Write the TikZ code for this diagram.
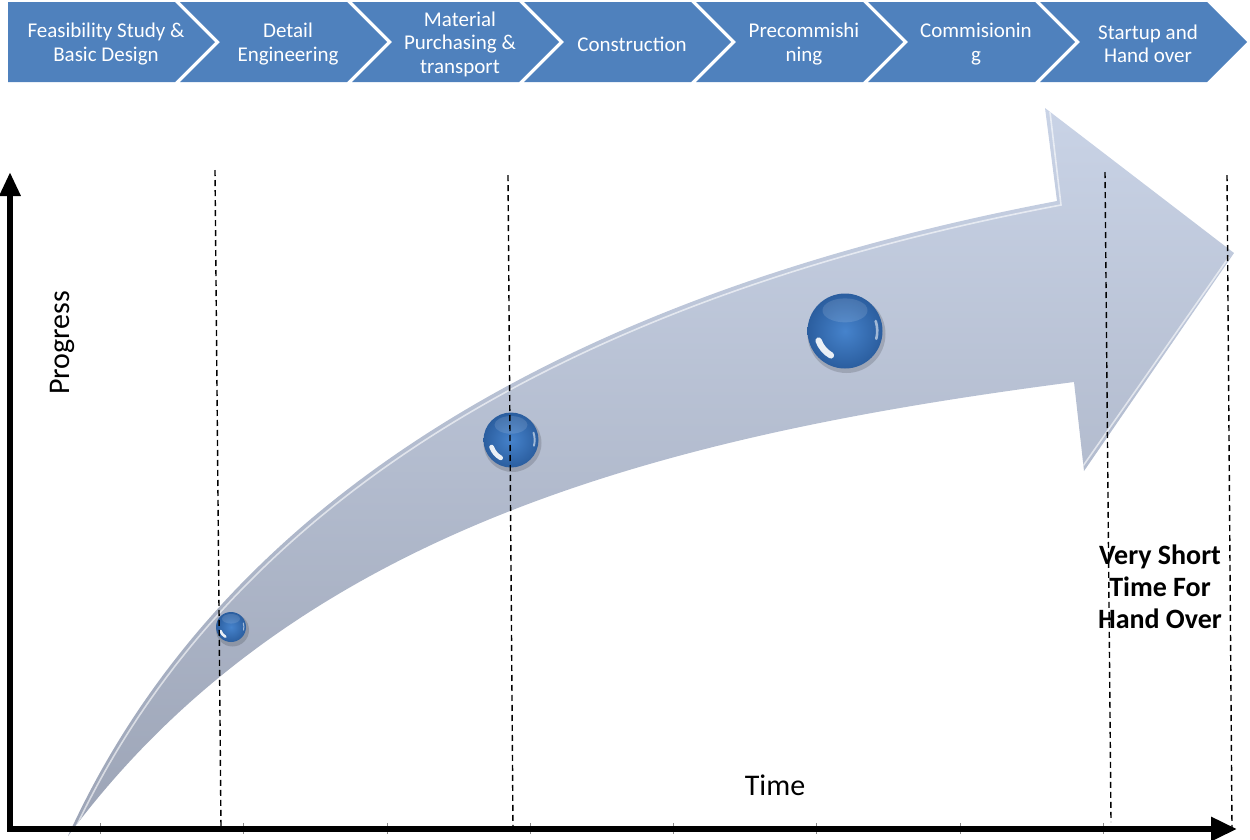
\documentclass[tikz,border=0pt]{standalone}
\usepackage{fontspec}
\setmainfont{Carlito}
\usetikzlibrary{arrows.meta}

\definecolor{chevblue}{HTML}{4F81BD}
\definecolor{arrowtop}{HTML}{C9D3E6}
\definecolor{arrowbot}{HTML}{9CA4B6}
\definecolor{bubin}{HTML}{4683CC}
\definecolor{bubout}{HTML}{2B5E9F}

% glossy blue ball: name, x, y, radius
\newcommand\glossyball[4]{%
  \begin{scope}[shift={(#2,#3)}]
    \fill[black, opacity=0.15] (1.5,3) circle ({#4+1.5});
    \shade[inner color=bubin, outer color=bubout] (0,0) circle (#4);
    \fill[white, opacity=0.12] (0,{-0.55*#4}) ellipse ({0.6*#4} and {0.32*#4});
    \draw[white, opacity=0.9, line width={0.17*#4}, line cap=round]
      (120:{0.75*#4}) arc (120:160:{0.75*#4});
    \draw[white, opacity=0.55, line width={0.07*#4}, line cap=round]
      (-18:{0.86*#4}) arc (-18:14:{0.86*#4});
  \end{scope}
  \coordinate (#1) at (#2,#3);
}

\begin{document}
\begin{tikzpicture}[x=1pt, y=-1pt,
  chevron/.style={fill=chevblue},
  chevtext/.style={text=white, align=center, inner sep=0pt,
    font=\fontsize{21}{23.5}\selectfont},
  axisline/.style={line width=6pt, black},
  tickline/.style={black!45, line width=0.8pt},
  guide/.style={black, line width=1.4pt, dash pattern=on 6pt off 4pt},
  bigarrow/.style={top color=arrowtop, bottom color=arrowbot},
  bevel/.style={white, opacity=0.6, line width=1.6pt},
  axislabel/.style={font=\fontsize{30}{34}\selectfont, inner sep=0pt},
  notelabel/.style={font=\bfseries\fontsize{28}{32}\selectfont, align=center, inner sep=0pt}
]
\useasboundingbox (0,0) rectangle (1250,839);

% ---- process chevrons ----
\fill[chevron] (8,2) -- (175,2) -- (215,42) -- (175,82) -- (8,82) -- cycle;
\foreach \i in {1,...,6} {
  \pgfmathsetmacro\L{8+172*\i}
  \fill[chevron] (\L,2) -- ({\L+167},2) -- ({\L+207},42) -- ({\L+167},82)
    -- (\L,82) -- ({\L+40},42) -- cycle;
}
\node[chevtext] (s1) at (106,44) {Feasibility Study \&\\Basic Design};
\node[chevtext] (s2) at (288,44) {Detail\\Engineering};
\node[chevtext] (s3) at (460,44) {Material\\Purchasing \&\\transport};
\node[chevtext] (s4) at (632,44) {Construction};
\node[chevtext] (s5) at (804,44) {Precommishi\\ning};
\node[chevtext] (s6) at (976,44) {Commisionin\\g};
\node[chevtext] (s7) at (1148,44) {Startup and\\Hand over};

% ---- curved progress arrow ----
\def\arrowpath{(68,836) .. controls (248,440) and (677,273) .. (1057,201)
  -- (1045,108) -- (1234,253) -- (1084,471) -- (1074,382)
  .. controls (674,434) and (298,525.5) .. (68,836) -- cycle}
\shade[bigarrow] \arrowpath;
\begin{scope}
  \clip \arrowpath;
  % light bevel just inside the upper edge and the head
  \draw[bevel] (70,840) .. controls (250,444) and (679,277) .. (1061,205)
    -- (1050,112);
  \draw[bevel] (1229,257) -- (1083,466);
\end{scope}

% ---- axes ----
\foreach \t in {100,243,387,530,673,816,960,1103}
  \draw[tickline] (\t,823) -- (\t,834);
\coordinate (origin) at (10,826);
\coordinate (ytip) at (10,172);
\coordinate (xstart) at (7,829);
\coordinate (xtip) at (1237,829);
\draw[axisline, -{Triangle[length=24pt, width=20pt]}] (origin) -- (ytip);
\draw[axisline, -{Triangle[length=26pt, width=23pt]}] (xstart) -- (xtip);

% ---- milestone balls ----
\glossyball{b1}{231}{627}{15}
\glossyball{b2}{511}{440}{27.5}
\glossyball{b3}{845}{331}{37.5}

% ---- dashed phase guides ----
\coordinate (g1t) at (215,170); \coordinate (g1b) at (221,828);
\coordinate (g2t) at (508,175); \coordinate (g2b) at (513,828);
\coordinate (g3t) at (1105,172); \coordinate (g3b) at (1111,822);
\coordinate (g4t) at (1227,175); \coordinate (g4b) at (1232,828);
\draw[guide] (g1t) -- (g1b);
\draw[guide] (g2t) -- (g2b);
\draw[guide] (g3t) -- (g3b);
\draw[guide] (g4t) -- (g4b);

% ---- labels ----
\node[axislabel, rotate=90] (progress) at (62,343) {Progress};
\node[axislabel] (time) at (775,785) {Time};
\node[notelabel] (note) at (1160,587) {Very Short\\Time For\\Hand Over};
\end{tikzpicture}
\end{document}
